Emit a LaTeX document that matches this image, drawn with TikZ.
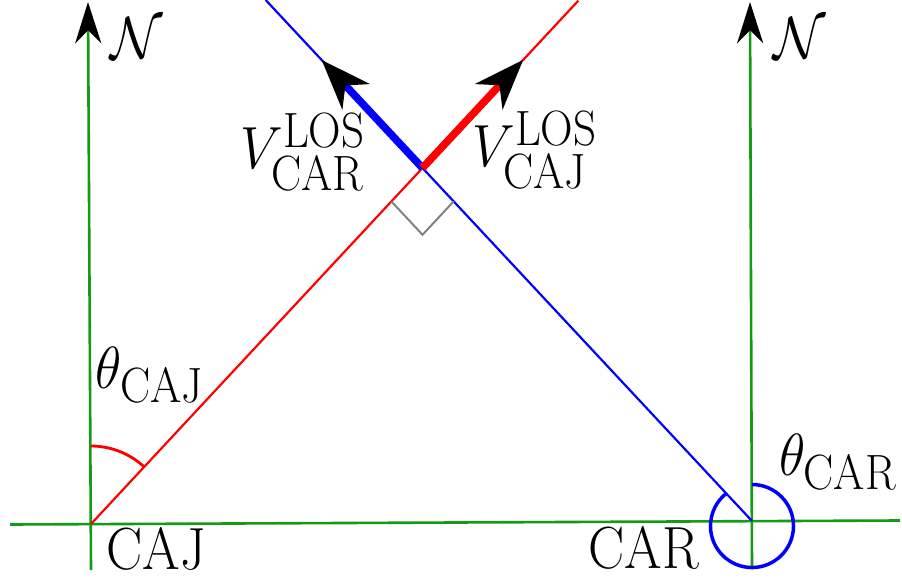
\documentclass[tikz,border=0pt]{standalone}
\usepackage{amsmath,amssymb}
\usepackage{xcolor}
\usepackage{tikz}
\usetikzlibrary{arrows.meta,positioning,calc}
\definecolor{axgreen}{RGB}{20,155,20}

\begin{document}
\begin{tikzpicture}[x=0.46pt,y=0.46pt,
  ax/.style={axgreen,line width=1.2pt},
  los/.style={line width=1pt},
  vel/.style={line width=3.5pt,-{Stealth[length=23pt,width=17pt,inset=7pt,black]}},
  north/.style={ax,-{Stealth[length=19pt,width=12pt,inset=6pt,black]}},
  lab/.style={font=\Huge,inner sep=0pt,yscale=1.1,transform shape}
]
\useasboundingbox (0,0) rectangle (902,581);
\coordinate (caj) at (91,57);
\coordinate (car) at (752,60);
\coordinate (i) at (422.5,413);
\coordinate (hl) at (10,56.5);
\coordinate (hr) at (900,60.5);
\coordinate (cajbot) at (91,11);
\coordinate (cajtop) at (88,579);
\coordinate (carbot) at (752,12);
\coordinate (cartop) at (750,579);
\coordinate (cajfar) at ($(caj)!1.47!(i)$);
\coordinate (carfar) at ($(car)!1.476!(i)$);
\coordinate (vcaj) at ($(i)!68pt!(cajfar)$);
\coordinate (vcar) at ($(i)!68pt!(carfar)$);
\coordinate (ra1) at ($(i)!21pt!(caj)$);
\coordinate (ra2) at ($(i)!21pt!(car)$);
\coordinate (rac) at ($(ra1)+(ra2)-(i)$);

\draw[ax] (hl) -- (hr);
\draw[north] (cajbot) -- (cajtop);
\draw[north] (carbot) -- (cartop);
\draw[los,red] (caj) -- (cajfar);
\draw[los,blue] (car) -- (carfar);
\draw[gray,line width=0.9pt] (ra1) -- (rac) -- (ra2);
\draw[vel,blue] (i) -- (vcar);
\draw[vel,red] (i) -- (vcaj);
\draw[red,line width=1.3pt] ($(caj)+(0,78)$) arc[start angle=90,end angle=47,radius=35.9pt];
\draw[blue,line width=1.6pt] ($(car)+(0,36.5)$) arc[start angle=90,end angle=-232,radius=19.1pt];

\node[lab] (nlcaj) at (137,543) {$\mathcal{N}$};
\node[lab] (nlcar) at (800,543) {$\mathcal{N}$};
\node[lab] (thcaj) at (150,206) {$\theta_{\mathrm{CAJ}}$};
\node[lab] (thcar) at (838,119) {$\theta_{\mathrm{CAR}}$};
\node[lab] (lbcaj) at (156,32) {CAJ};
\node[lab] (lbcar) at (644,33) {CAR};
\node[lab] (vlcar) at (303,429) {$V^{\mathrm{LOS}}_{\mathrm{CAR}}$};
\node[lab] (vlcaj) at (535,431) {$V^{\mathrm{LOS}}_{\mathrm{CAJ}}$};
\end{tikzpicture}
\end{document}
